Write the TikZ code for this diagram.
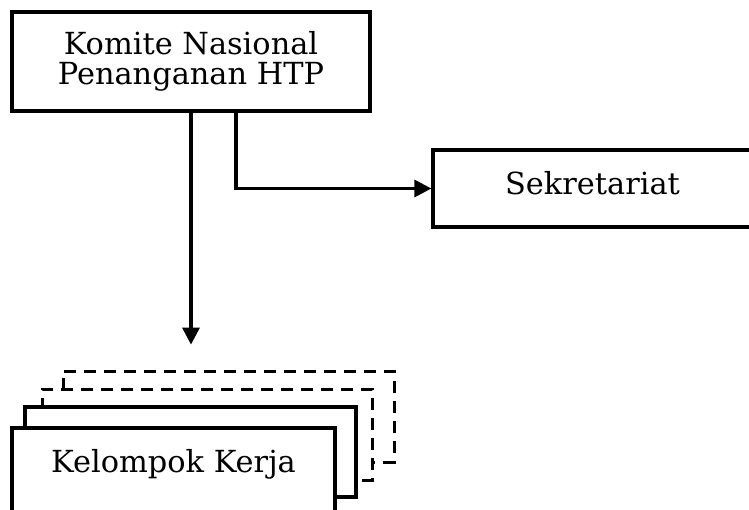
\documentclass[tikz,border=0pt]{standalone}
\usepackage{fontspec}
\setmainfont{DejaVu Serif}
\usetikzlibrary{arrows.meta}

\tikzset{
  kotak/.style={draw, line width=1.6pt, fill=white, inner sep=0pt},
  kotak putus/.style={kotak, line width=1.5pt, dash pattern=on 6pt off 4pt},
  panah/.style={line width=1.6pt, -{Triangle[length=8.5pt,width=8.5pt]}},
}

\begin{document}
\begin{tikzpicture}[x=0.5pt,y=-0.5pt,font=\fontsize{15.2}{15}\selectfont]
\clip (0,0) rectangle (749,509);
\node[kotak, minimum width=179pt, minimum height=49.5pt, align=center] (komite) at (191,61.5) {Komite Nasional\\Penanganan HTP};
\node[kotak, minimum width=159.5pt, minimum height=38.5pt, text height=10.5pt, text depth=5pt] (sekre) at (592.5,188.5) {Sekretariat};
% tumpukan kelompok kerja
\node[kotak putus, minimum width=165.5pt, minimum height=45.5pt] (pokja4) at (228.5,416.5) {};
\node[kotak putus, minimum width=165pt, minimum height=45.5pt] (pokja3) at (207,434.5) {};
\node[kotak, minimum width=165.5pt, minimum height=45pt] (pokja2) at (190.5,452) {};
\node[kotak, minimum width=161.5pt, minimum height=45pt, text height=10.5pt, text depth=11pt] (pokja1) at (173.5,473) {Kelompok Kerja};
\coordinate (ujung) at ([yshift=-116pt]komite.south);
\draw[panah] (komite.south) -- (ujung);
\draw[panah] ([xshift=22.5pt]komite.south) |- (sekre.west);
\end{tikzpicture}
\end{document}
